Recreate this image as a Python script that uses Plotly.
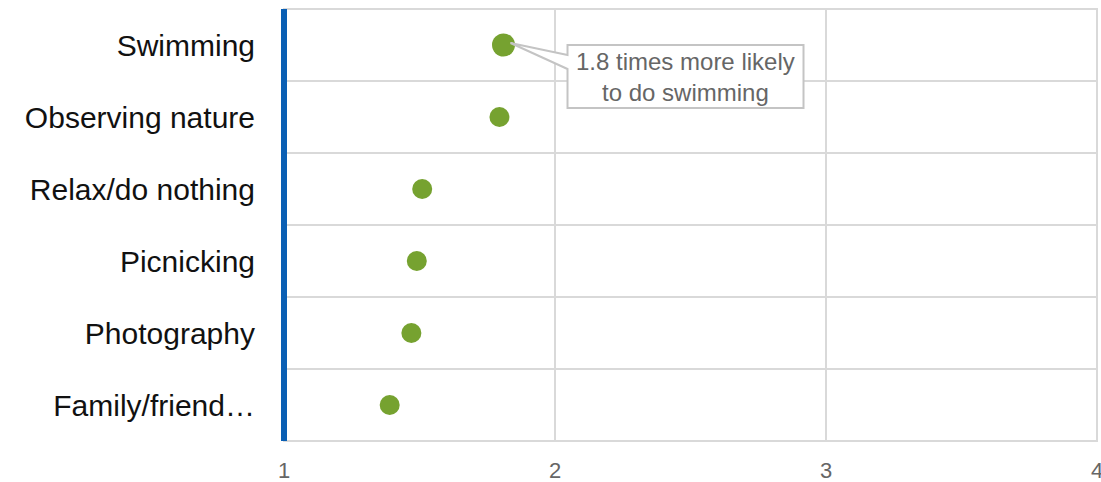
import plotly.graph_objects as go

# Activities and how many times more likely each is
activities = ["Swimming", "Observing nature", "Relax/do nothing",
              "Picnicking", "Photography", "Family/friend…"]
likelihood = [1.81, 1.795, 1.51, 1.49, 1.47, 1.39]
x_ticks = [1, 2, 3, 4]

highlight = "Swimming"
hi_idx = activities.index(highlight)
hi_val = likelihood[hi_idx]

GREEN = "#76a230"
GRID = "#d9d9d9"
BLUE = "#0a5fb4"

sizes = [23 if a == highlight else 20 for a in activities]

fig = go.Figure()
fig.add_trace(go.Scatter(
    x=likelihood, y=activities, mode="markers",
    marker=dict(color=GREEN, size=sizes, opacity=1, line=dict(width=0)),
    hoverinfo="skip", showlegend=False,
))

font = "Liberation Sans, Arial, sans-serif"

fig.update_layout(
    width=1101, height=482,
    margin=dict(l=284, r=4, t=9, b=41),
    paper_bgcolor="white", plot_bgcolor="white",
    font=dict(family=font),
    xaxis=dict(
        range=[1, 4], tickvals=x_ticks, ticktext=[str(t) for t in x_ticks],
        showgrid=True, gridcolor=GRID, gridwidth=2, zeroline=False,
        showline=False, ticks="", tickfont=dict(size=22, color="#666666"),
        ticklabelstandoff=14, ticklabeloverflow="allow", automargin=False,
    ),
    yaxis=dict(
        type="category", categoryorder="array", categoryarray=activities,
        range=[len(activities) - 0.5, -0.5], tickson="boundaries",
        showgrid=True, gridcolor=GRID, gridwidth=2, zeroline=False,
        showline=False, ticks="", tickfont=dict(size=30, color="#111111"),
        ticklabelstandoff=28, automargin=False,
    ),
)

# Plot frame
fig.add_shape(type="rect", xref="paper", yref="paper", x0=0, x1=1, y0=0, y1=1,
              line=dict(color=GRID, width=2), layer="below")

# Blue baseline along the left edge (x = 1)
fig.add_shape(type="line", xref="paper", yref="paper", x0=0, x1=0, y0=0, y1=1,
              line=dict(color=BLUE, width=6), layer="above")

# Callout box with pointer to the highlighted point (pixel offsets from the point)
fig.add_shape(
    type="path", xref="x", yref="y",
    xsizemode="pixel", ysizemode="pixel",
    xanchor=hi_val, yanchor=hi_idx,
    path="M 7,2 L 64,-10 L 64,0 L 300,0 L 300,-63 L 64,-63 L 64,-24 Z",
    line=dict(color="#c4c4c4", width=2), fillcolor="white", layer="above",
)
fig.add_annotation(
    x=hi_val, y=hi_idx, xref="x", yref="y",
    xshift=182, yshift=-32, showarrow=False,
    text=f"{hi_val:.1f} times more likely<br>to do swimming",
    font=dict(size=24, color="#666666", family=font),
    align="center",
)

fig.write_html("out.html")
